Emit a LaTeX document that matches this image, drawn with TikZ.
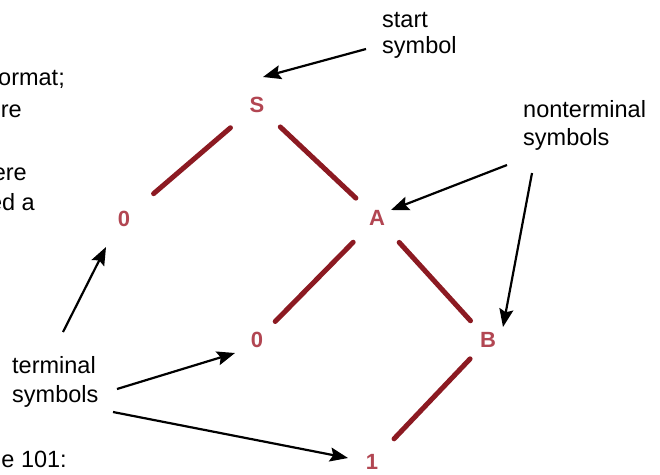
\documentclass[tikz,border=0pt]{standalone}
\usepackage{fontspec}
\setmainfont{Liberation Sans}
\usetikzlibrary{arrows.meta,calc}
\definecolor{treeline}{RGB}{140,26,34}
\definecolor{treetext}{RGB}{178,70,82}
\begin{document}
\begin{tikzpicture}[x=1pt,y=-1pt,
  sym/.style={text=treetext, font=\bfseries\fontsize{22}{28}\selectfont, inner sep=0pt},
  lbl/.style={font=\fontsize{23.5}{28}\selectfont, inner sep=0pt, anchor=base west},
  frag/.style={font=\fontsize{23.5}{28}\selectfont, inner sep=0pt, anchor=base east},
  branch/.style={draw=treeline, line width=5pt, line cap=round},
  arr/.style={draw=black, line width=2.2pt, -{Stealth[length=18pt,width=14pt,inset=3pt]}}]
\useasboundingbox[fill=white] (0,0) rectangle (660,474);
\clip (0,0) rectangle (660,474);

% cut-off text at the left edge
\node[frag] (f1) at (65,85) {ormat;};
\node[frag] (f2) at (22,117) {re};
\node[frag] (f3) at (27,180) {ere};
\node[frag] (f4) at (35,210) {ed a};
\node[frag] (f5) at (67,467) {e 101:};

% tree symbols
\node[sym] (S) at (257,105) {S};
\node[sym] (L0) at (124,219) {0};
\node[sym] (A) at (377,218) {A};
\node[sym] (M0) at (257,340) {0};
\node[sym] (B) at (488,340) {B};
\node[sym] (one) at (372,462) {1};

% branches
\draw[branch, shorten <=35pt, shorten >=39pt] (S.center) -- (L0.center);
\draw[branch, shorten <=32pt, shorten >=29pt] (S.center) -- (A.center);
\draw[branch, shorten <=34pt, shorten >=26pt] (A.center) -- (M0.center);
\draw[branch, shorten <=33pt, shorten >=26pt] (A.center) -- (B.center);
\draw[branch, shorten <=26pt, shorten >=32pt] (B.center) -- (one.center);

% labels
\node[lbl] (st1) at (382,27) {start};
\node[lbl] (st2) at (382,53) {symbol};
\node[lbl] (nt1) at (523,117) {nonterminal};
\node[lbl] (nt2) at (523,145) {symbols};
\node[lbl] (tm1) at (12,373) {terminal};
\node[lbl] (tm2) at (12,402) {symbols};

% arrow tails
\coordinate (tS) at (366,49);
\coordinate (tA) at (507,165);
\coordinate (tB) at (532,173);
\coordinate (tL) at (63,332);
\coordinate (tM) at (117,389);
\coordinate (tO) at (113,412);

% arrows
\draw[arr] (tS) -- ($(S)+(6,-28)$);
\draw[arr] (tA) -- ($(A)+(14,-8)$);
\draw[arr] (tB) -- ($(B)+(15,-13)$);
\draw[arr] (tL) -- ($(L0)+(-18,28)$);
\draw[arr] (tM) -- ($(M0)+(-22,13)$);
\draw[arr] (tO) -- ($(one)+(-24,-4)$);
\end{tikzpicture}
\end{document}
